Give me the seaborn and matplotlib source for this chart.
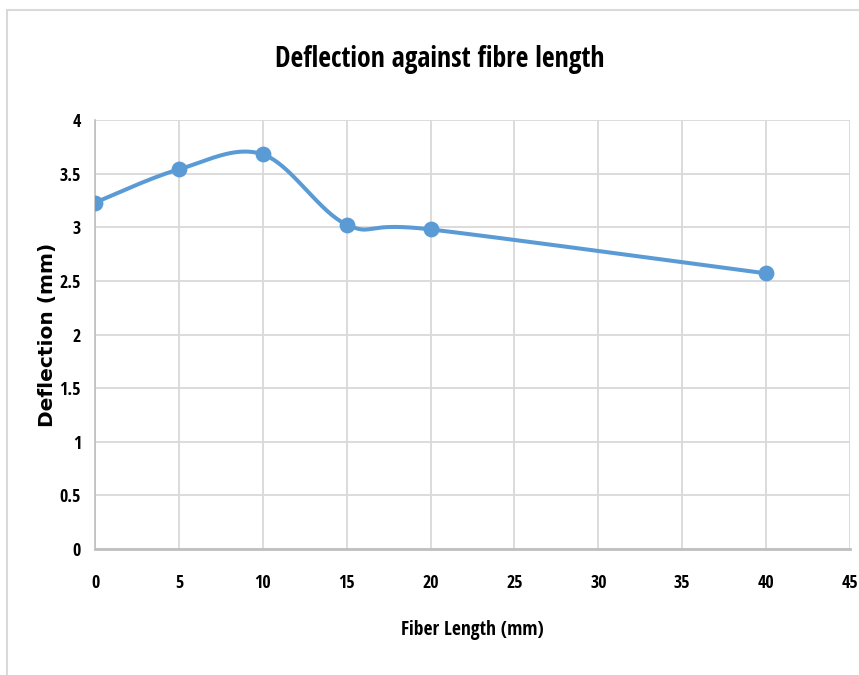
import numpy as np
import pandas as pd
import matplotlib
matplotlib.use("Agg")
import matplotlib.pyplot as plt
from matplotlib.patches import Rectangle
import seaborn as sns

# Measured deflection for each fibre length
fiber_length = [0, 5, 10, 15, 20, 40]
deflection = [3.23, 3.54, 3.68, 3.025, 2.98, 2.57]

x_ticks = [0, 5, 10, 15, 20, 25, 30, 35, 40, 45]
y_ticks = [0, 0.5, 1, 1.5, 2, 2.5, 3, 3.5, 4]
y_tick_labels = ["0", "0.5", "1", "1.5", "2", "2.5", "3", "3.5", "4"]

title_text = "Deflection against fibre length"
x_label = "Fiber Length (mm)"
y_label = "Deflection (mm)"

LINE_COLOR = "#5B9BD5"
GRID_COLOR = "#d9d9d9"

sns.set_theme(style="white")
narrow = ["Open Sans Condensed", "DejaVu Sans"]
plt.rcParams["font.family"] = narrow


def smooth_curve(xs, ys, steps=40):
    """Catmull-Rom style Bezier smoothing through every data point."""
    px = np.asarray(xs, dtype=float)
    py = np.asarray(ys, dtype=float)
    n = len(px)
    out_x, out_y = [], []
    t = np.linspace(0, 1, steps)
    for i in range(n - 1):
        p0 = np.array([px[max(i - 1, 0)], py[max(i - 1, 0)]])
        p1 = np.array([px[i], py[i]])
        p2 = np.array([px[i + 1], py[i + 1]])
        p3 = np.array([px[min(i + 2, n - 1)], py[min(i + 2, n - 1)]])
        c1 = p1 + (p2 - p0) / 6.0
        c2 = p2 - (p3 - p1) / 6.0
        for tt in t:
            b = ((1 - tt) ** 3) * p1 + 3 * ((1 - tt) ** 2) * tt * c1 \
                + 3 * (1 - tt) * tt ** 2 * c2 + tt ** 3 * p2
            out_x.append(b[0])
            out_y.append(b[1])
    return out_x, out_y


points = pd.DataFrame({"length": fiber_length, "deflection": deflection})
cx, cy = smooth_curve(fiber_length, deflection)
curve = pd.DataFrame({"length": cx, "deflection": cy})

fig = plt.figure(figsize=(8.59, 6.75), dpi=100)
ax = fig.add_axes([95 / 859, 1 - 549 / 675, 755 / 859, 429 / 675])

# Outer chart frame
fig.patches.append(Rectangle((7 / 859, -0.1), 1.2, 1 - 10 / 675 + 0.1,
                             transform=fig.transFigure, fill=False,
                             edgecolor="#d9d9d9", linewidth=1.5, zorder=0))

sns.lineplot(data=curve, x="length", y="deflection", sort=False,
             color=LINE_COLOR, linewidth=2.9, ax=ax, zorder=3)
sns.scatterplot(data=points, x="length", y="deflection", color=LINE_COLOR,
                s=130, edgecolor=LINE_COLOR, linewidth=0, ax=ax, zorder=4)

ax.set_xlim(0, 45)
ax.set_ylim(0, 4)
ax.set_xticks(x_ticks)
ax.set_yticks(y_ticks)
ax.set_yticklabels(y_tick_labels)
ax.grid(True, color=GRID_COLOR, linewidth=1.3)
ax.set_axisbelow(True)

for side in ["top", "right"]:
    ax.spines[side].set_visible(False)
ax.spines["left"].set_color("#bfbfbf")
ax.spines["left"].set_linewidth(1.2)
ax.spines["bottom"].set_color("#bfbfbf")
ax.spines["bottom"].set_linewidth(2.0)

ax.tick_params(axis="both", length=0, labelsize=13, labelcolor="black")
ax.tick_params(axis="x", pad=18)
ax.tick_params(axis="y", pad=10)
for lab in ax.get_xticklabels() + ax.get_yticklabels():
    lab.set_fontweight("bold")

ax.set_xlabel(x_label, fontsize=14, fontweight="bold", labelpad=20,
              color="black")
ax.set_ylabel(y_label, fontsize=14.5, fontweight="bold", labelpad=2,
              color="black", family=["DejaVu Sans"])

fig.text(440 / 859, 1 - 59 / 675, title_text, ha="center", va="center",
         fontsize=20, fontweight="bold", color="black")

fig.savefig("out.png", dpi=100, facecolor="white")
